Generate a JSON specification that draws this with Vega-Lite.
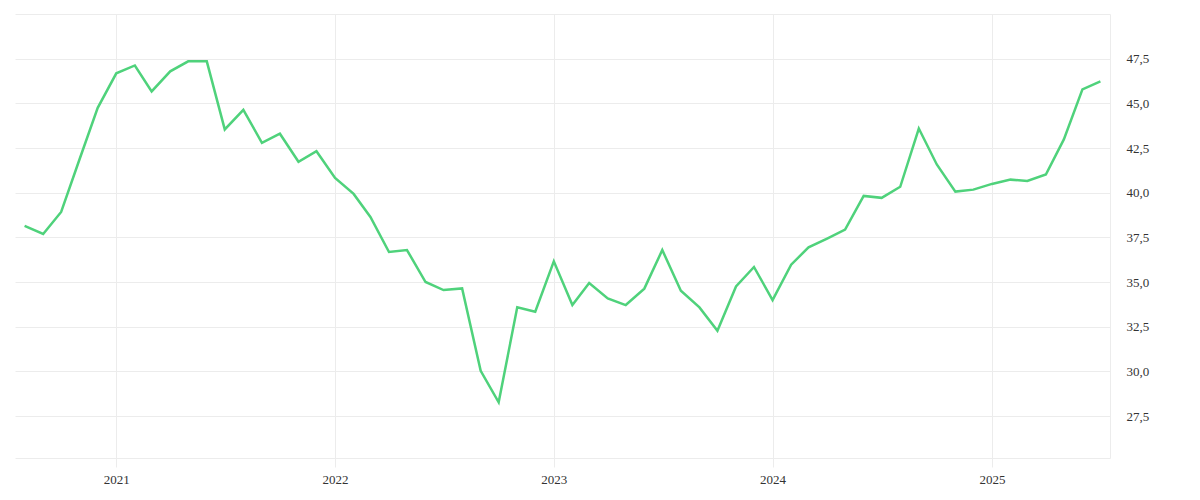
{
  "$schema": "https://vega.github.io/schema/vega-lite/v6.json",
  "width": 1095,
  "height": 444,
  "padding": {"left": 15, "top": 14, "right": 5, "bottom": 5},
  "background": "white",
  "config": {
    "view": {"stroke": null},
    "axis": {
      "labelFont": "Liberation Serif",
      "labelFontSize": 13,
      "labelColor": "#333333",
      "gridColor": "#ececec",
      "domainColor": "#ececec",
      "tickColor": "#ececec",
      "title": null
    }
  },
  "data": {
    "values": [
      {"date": "2020/08/01", "value": 38.14},
      {"date": "2020/09/01", "value": 37.69},
      {"date": "2020/10/01", "value": 38.92},
      {"date": "2020/11/01", "value": 41.9},
      {"date": "2020/12/01", "value": 44.75},
      {"date": "2021/01/01", "value": 46.68},
      {"date": "2021/02/01", "value": 47.12},
      {"date": "2021/03/01", "value": 45.67},
      {"date": "2021/04/01", "value": 46.79},
      {"date": "2021/05/01", "value": 47.35},
      {"date": "2021/06/01", "value": 47.35},
      {"date": "2021/07/01", "value": 43.54},
      {"date": "2021/08/01", "value": 44.64},
      {"date": "2021/09/01", "value": 42.79},
      {"date": "2021/10/01", "value": 43.3},
      {"date": "2021/11/01", "value": 41.73},
      {"date": "2021/12/01", "value": 42.32},
      {"date": "2022/01/01", "value": 40.83},
      {"date": "2022/02/01", "value": 39.93},
      {"date": "2022/03/01", "value": 38.64},
      {"date": "2022/04/01", "value": 36.68},
      {"date": "2022/05/01", "value": 36.79},
      {"date": "2022/06/01", "value": 35.0},
      {"date": "2022/07/01", "value": 34.55},
      {"date": "2022/08/01", "value": 34.64},
      {"date": "2022/09/01", "value": 30.03},
      {"date": "2022/10/01", "value": 28.27},
      {"date": "2022/11/01", "value": 33.58},
      {"date": "2022/12/01", "value": 33.34},
      {"date": "2023/01/01", "value": 36.16},
      {"date": "2023/02/01", "value": 33.71},
      {"date": "2023/03/01", "value": 34.94},
      {"date": "2023/04/01", "value": 34.08},
      {"date": "2023/05/01", "value": 33.71},
      {"date": "2023/06/01", "value": 34.63},
      {"date": "2023/07/01", "value": 36.79},
      {"date": "2023/08/01", "value": 34.51},
      {"date": "2023/09/01", "value": 33.58},
      {"date": "2023/10/01", "value": 32.27},
      {"date": "2023/11/01", "value": 34.75},
      {"date": "2023/12/01", "value": 35.84},
      {"date": "2024/01/01", "value": 33.99},
      {"date": "2024/02/01", "value": 35.97},
      {"date": "2024/03/01", "value": 36.94},
      {"date": "2024/04/01", "value": 37.43},
      {"date": "2024/05/01", "value": 37.93},
      {"date": "2024/06/01", "value": 39.82},
      {"date": "2024/07/01", "value": 39.71},
      {"date": "2024/08/01", "value": 40.33},
      {"date": "2024/09/01", "value": 43.59},
      {"date": "2024/10/01", "value": 41.58},
      {"date": "2024/11/01", "value": 40.06},
      {"date": "2024/12/01", "value": 40.17},
      {"date": "2025/01/01", "value": 40.49},
      {"date": "2025/02/01", "value": 40.73},
      {"date": "2025/03/01", "value": 40.66},
      {"date": "2025/04/01", "value": 41.02},
      {"date": "2025/05/01", "value": 42.98},
      {"date": "2025/06/01", "value": 45.78},
      {"date": "2025/07/01", "value": 46.23}
    ]
  },
  "mark": {"type": "line", "color": "#4fd27b", "strokeWidth": 2.5, "strokeJoin": "miter"},
  "encoding": {
    "x": {
      "field": "date",
      "type": "temporal",
      "scale": {
        "domain": [
          {"year": 2020, "month": 7, "date": 16},
          {"year": 2025, "month": 7, "date": 17}
        ]
      },
      "axis": {
        "values": [
          {"year": 2021, "month": 1, "date": 1},
          {"year": 2022, "month": 1, "date": 1},
          {"year": 2023, "month": 1, "date": 1},
          {"year": 2024, "month": 1, "date": 1},
          {"year": 2025, "month": 1, "date": 1}
        ],
        "format": "%Y",
        "grid": true,
        "tickSize": 9,
        "labelPadding": 6
      }
    },
    "y": {
      "field": "value",
      "type": "quantitative",
      "scale": {"domain": [25.15, 50], "nice": false, "zero": false},
      "axis": {
        "orient": "right",
        "values": [27.5, 30, 32.5, 35, 37.5, 40, 42.5, 45, 47.5, 50],
        "labelExpr": "datum.value >= 50 ? '' : replace(format(datum.value, '.1f'), '.', ',')",
        "ticks": false,
        "labelPadding": 16,
        "grid": true
      }
    }
  }
}
